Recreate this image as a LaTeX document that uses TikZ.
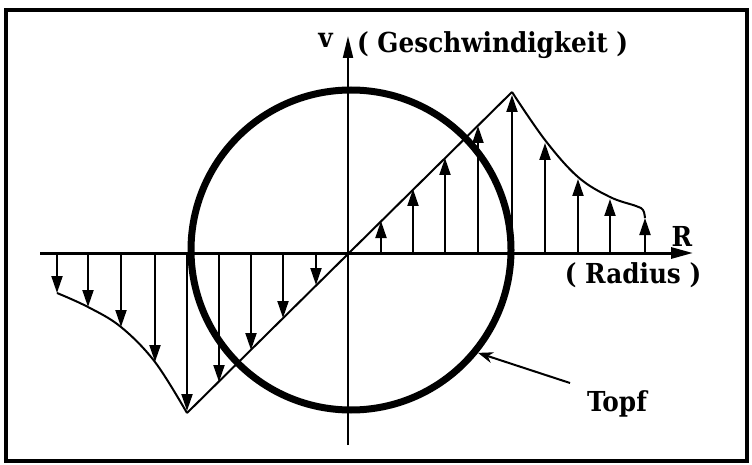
\documentclass[tikz,border=0pt]{standalone}
\usepackage{fontspec}
\setmainfont{DejaVu Serif}
\newfontfamily\lblfont{DejaVu Serif Condensed}
\usetikzlibrary{arrows.meta}
\begin{document}
\begin{tikzpicture}[x=1pt,y=-1pt,
  vec/.style={line width=2pt,-{Triangle[length=17pt,width=11pt]}},
  lbl/.style={font=\lblfont\bfseries\fontsize{27.5}{30}\selectfont, inner sep=0pt},
  curveline/.style={line width=2pt, line join=round},
  axis/.style={line width=3pt}
]
\useasboundingbox (0,0) rectangle (752,465);
\draw[line width=3.5pt] (6,10) rectangle (747,461);

% axes
\coordinate (O) at (348,253);
\coordinate (xl) at (40,253);
\coordinate (xr) at (693,253);
\coordinate (yt) at (348,36);
\coordinate (yb) at (348,445);
\draw[axis,-{Triangle[length=22pt,width=11pt]}] (xl) -- (xr);
\draw[line width=2pt,-{Triangle[length=22pt,width=10pt]}] (yb) -- (yt);

% pot
\node[circle, draw, line width=7pt, minimum size=320pt, inner sep=0pt] (topf) at (351,250) {};

% velocity profile
\coordinate (cu) at (187,413);
\coordinate (pk) at (512,92);
\draw[curveline] (cu) -- (pk);
\draw[curveline] plot[smooth, tension=0.6] coordinates {(512,92) (545,140) (578,177) (610,197) (636,206) (643,210) (645,218)};
\draw[curveline] plot[smooth, tension=0.6] coordinates {(57,293) (88,307) (121,327) (155,362) (187,413)};

\foreach \x/\y [count=\i] in {381/221, 413/189, 445/158, 478/126, 512/95, 545/143, 578/179, 610/199, 645/218,
                              57/293, 88/307, 121/327, 155/362, 187/411, 219/382, 251/350, 283/318, 316/285} {
  \coordinate (b\i) at (\x,253);
  \coordinate (t\i) at (\x,\y);
  \draw[vec] (b\i) -- (t\i);
}

% labels
\node[lbl, anchor=base east] (v) at (333,48) {v};
\node[lbl, anchor=base west] (gesch) at (357,53) {( Geschwindigkeit )};
\node[lbl, anchor=base] (R) at (682,247) {R};
\node[lbl, anchor=base] (rad) at (633,283) {( Radius )};
\node[lbl, anchor=base west] (topflbl) at (587,411) {Topf};
\coordinate (tstart) at (570,383);
\draw[line width=2pt,-{Stealth[length=15pt,width=11pt]}] (tstart) -- (topf.-39);
\end{tikzpicture}
\end{document}
